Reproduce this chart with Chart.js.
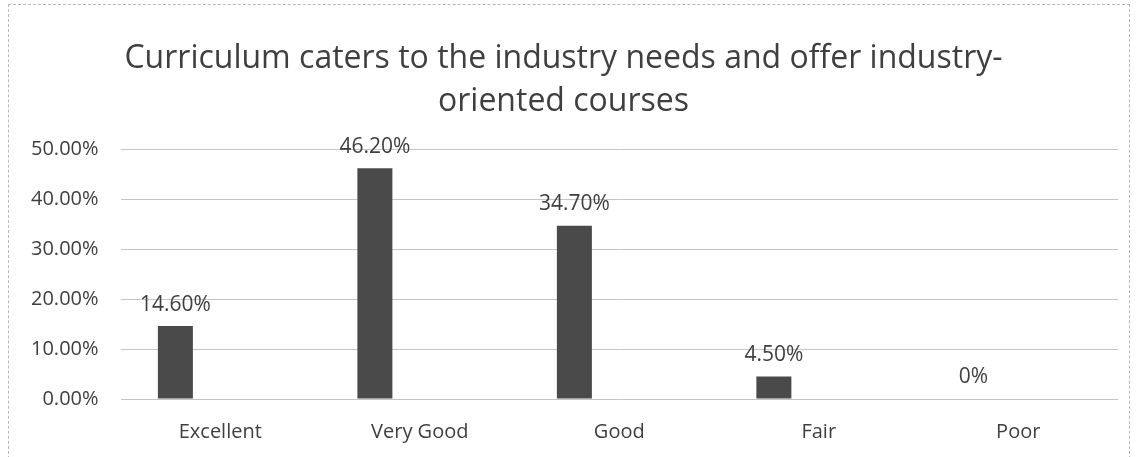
<!DOCTYPE html>
<html>
<head>
<meta charset="utf-8">
<script src="https://cdn.jsdelivr.net/npm/chart.js@4"></script>
<style>
  html, body { margin: 0; padding: 0; background: #ffffff; }
  #wrap { position: relative; width: 1140px; height: 457px; }
  #frame { position: absolute; left: 8px; top: 4px; width: 1122px; height: 470px; border: 1px dashed #b8b8b8; box-sizing: border-box; pointer-events: none; }
  canvas { display: block; }
</style>
</head>
<body>
<div id="wrap">
  <canvas id="c" width="1140" height="457"></canvas>
  <div id="frame"></div>
</div>
<script>
const titleLines = ["Curriculum caters to the industry needs and offer industry-", "oriented courses"];
const categories = ["Excellent", "Very Good", "Good", "Fair", "Poor"];
const values = [14.6, 46.2, 34.7, 4.5, 0];
const valueLabels = ["14.60%", "46.20%", "34.70%", "4.50%", "0%"];
const yTicks = [0, 10, 20, 30, 40, 50];

const textColor = "#3f3f3f";
const fontFamily = "'Open Sans', 'Noto Sans', sans-serif";

const labelPlugin = {
  id: "valueLabels",
  afterDatasetsDraw(chart) {
    const ctx = chart.ctx;
    const meta = chart.getDatasetMeta(0);
    ctx.save();
    ctx.fillStyle = textColor;
    ctx.font = "21px " + fontFamily;
    ctx.textAlign = "center";
    ctx.textBaseline = "bottom";
    meta.data.forEach((bar, i) => {
      ctx.fillText(valueLabels[i], bar.x, bar.y - 11);
    });
    ctx.restore();
  }
};

new Chart(document.getElementById("c"), {
  type: "bar",
  data: {
    labels: categories,
    datasets: [
      { data: values, backgroundColor: "#4b4a4b", borderWidth: 0, categoryPercentage: 0.9, barPercentage: 0.39 },
      { data: categories.map(() => null), backgroundColor: "#4b4a4b", categoryPercentage: 0.9, barPercentage: 0.39 }
    ]
  },
  options: {
    responsive: false,
    animation: false,
    devicePixelRatio: 1,
    layout: { padding: { left: 9, right: 22, top: 37, bottom: 0 } },
    plugins: {
      legend: { display: false },
      tooltip: { enabled: false },
      title: {
        display: true,
        text: titleLines,
        color: textColor,
        font: { family: fontFamily, size: 32, weight: "normal", lineHeight: 1.35 },
        padding: { top: 0, bottom: 26 }
      }
    },
    scales: {
      x: {
        grid: { display: false },
        border: { display: false },
        ticks: { color: textColor, font: { family: fontFamily, size: 20 }, padding: 13 }
      },
      y: {
        min: 0,
        max: 50,
        afterBuildTicks(axis) { axis.ticks = yTicks.map(v => ({ value: v })); },
        grid: { color: "#c4c4c4", lineWidth: 1, drawTicks: false },
        border: { display: false },
        ticks: {
          color: textColor,
          font: { family: fontFamily, size: 20 },
          padding: 22,
          callback: v => v.toFixed(2) + "%"
        }
      }
    }
  },
  plugins: [labelPlugin]
});
</script>
</body>
</html>
